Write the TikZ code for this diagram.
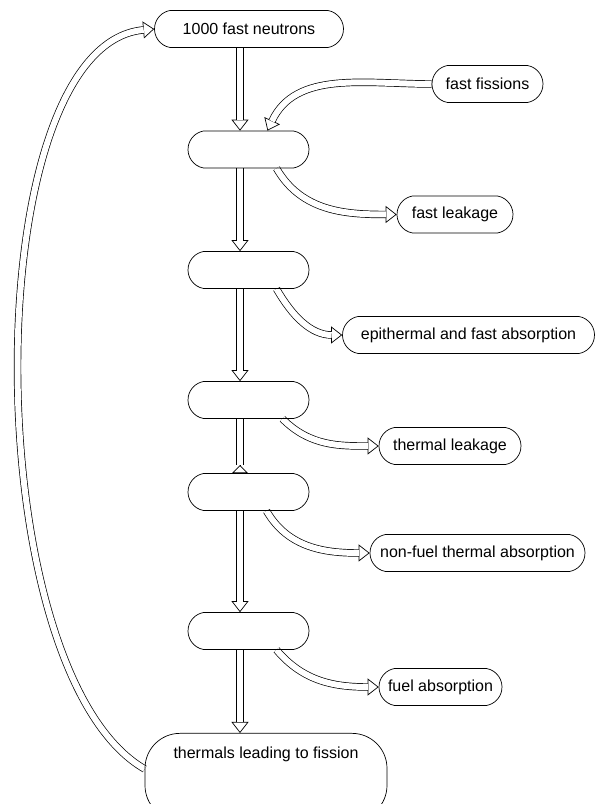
\documentclass[tikz,border=0pt]{standalone}
\usepackage{fontspec}
\setmainfont{Liberation Sans}
\usepackage{tikz}
\usetikzlibrary{shapes.misc,arrows.meta}

\pgfdeclarelayer{back}
\pgfsetlayers{back,main}

\tikzset{
  stage/.style={draw, rounded rectangle, rounded rectangle arc length=160,
    line width=0.7pt, minimum width=121pt, minimum height=37pt, inner sep=0pt,
    font=\fontsize{16pt}{19pt}\selectfont},
  hollowtip/.style={line width=0.7pt, -{Triangle[open,length=11pt,width=17pt]}},
  backtip/.style={line width=0.7pt, -{Triangle[open,reversed,length=8pt,width=16pt]}},
  shaft/.style={line width=0.7pt, double, double distance=6pt},
}
% hollow double arrow: outline tip first, then the double shaft over it
\newcommand{\flow}[1]{\draw[hollowtip] #1; \draw[shaft, shorten >=10.5pt] #1;}

\begin{document}
\begin{tikzpicture}[x=1pt,y=1pt]
    \useasboundingbox (0,0) rectangle (595,804);
    \clip (0,0) rectangle (595,804);

    % main chain
    \node[stage, minimum width=189pt] (neutrons) at (249,775) {1000 fast neutrons};
    \node[stage] (s1) at (248.5,654.5) {};
    \node[stage] (s2) at (248.5,534) {};
    \node[stage] (s3) at (248.5,404) {};
    \node[stage] (s4) at (248.5,312) {};
    \node[stage] (s5) at (248.5,173) {};
    \node[draw, line width=0.7pt, rounded corners=35pt, minimum width=242pt,
      text height=12pt, text depth=49pt, inner ysep=13pt, anchor=north,
      font=\fontsize{16pt}{19pt}\selectfont] (thermals) at (266,71) {thermals leading to fission};

    % gains and losses
    \node[stage, minimum width=111pt] (fissions) at (487.5,720) {fast fissions};
    \node[stage, minimum width=116pt] (fastleak) at (455,589.5) {fast leakage};
    \node[stage, minimum width=252pt] (epiabs) at (468.5,469) {epithermal and fast absorption};
    \node[stage, minimum width=142pt] (thermleak) at (450,358) {thermal leakage};
    \node[stage, minimum width=215pt] (nonfuel) at (477.5,251) {non-fuel thermal absorption};
    \node[stage, minimum width=123pt] (fuelabs) at (440.5,117) {fuel absorption};

    \begin{pgfonlayer}{back}
    % down the chain
    \flow{([xshift=-8.5pt]s1.north |- neutrons.south) -- ([xshift=-8.5pt]s1.north)}
    \flow{([xshift=-8.5pt]s1.south) -- ([xshift=-8.5pt]s2.north)}
    \flow{([xshift=-8.5pt]s2.south) -- ([xshift=-8.5pt]s3.north)}
    \draw[backtip] ([xshift=-8.5pt]s3.south) -- ([xshift=-8.5pt]s4.north);
    \draw[shaft, shorten >=8pt] ([xshift=-8.5pt]s3.south) -- ([xshift=-8.5pt]s4.north);
    \flow{([xshift=-8.5pt]s4.south) -- ([xshift=-8.5pt]s5.north)}
    \flow{([xshift=-8.5pt]s5.south) -- ([xshift=-8.5pt]s5.south |- thermals.north)}

    % side arrows
    \flow{(fissions.west) to[out=180,in=65] ([xshift=19pt]s1.north)}
    \flow{([xshift=28pt]s1.south) to[out=-60,in=180] (fastleak.west)}
    \flow{([xshift=28pt]s2.south) to[out=-60,in=180] (epiabs.west)}
    \flow{([xshift=34pt]s3.south) to[out=-45,in=180] (thermleak.west)}
    \flow{([xshift=18pt]s4.south) to[out=-60,in=180] (nonfuel.west)}
    \flow{([xshift=28pt]s5.south) to[out=-50,in=180] (fuelabs.west)}

    % back to the start
    \flow{([yshift=-36pt]thermals.north west) to[out=150,in=185,out distance=195pt,in distance=180pt] (neutrons.west)}
    \end{pgfonlayer}
\end{tikzpicture}
\end{document}
